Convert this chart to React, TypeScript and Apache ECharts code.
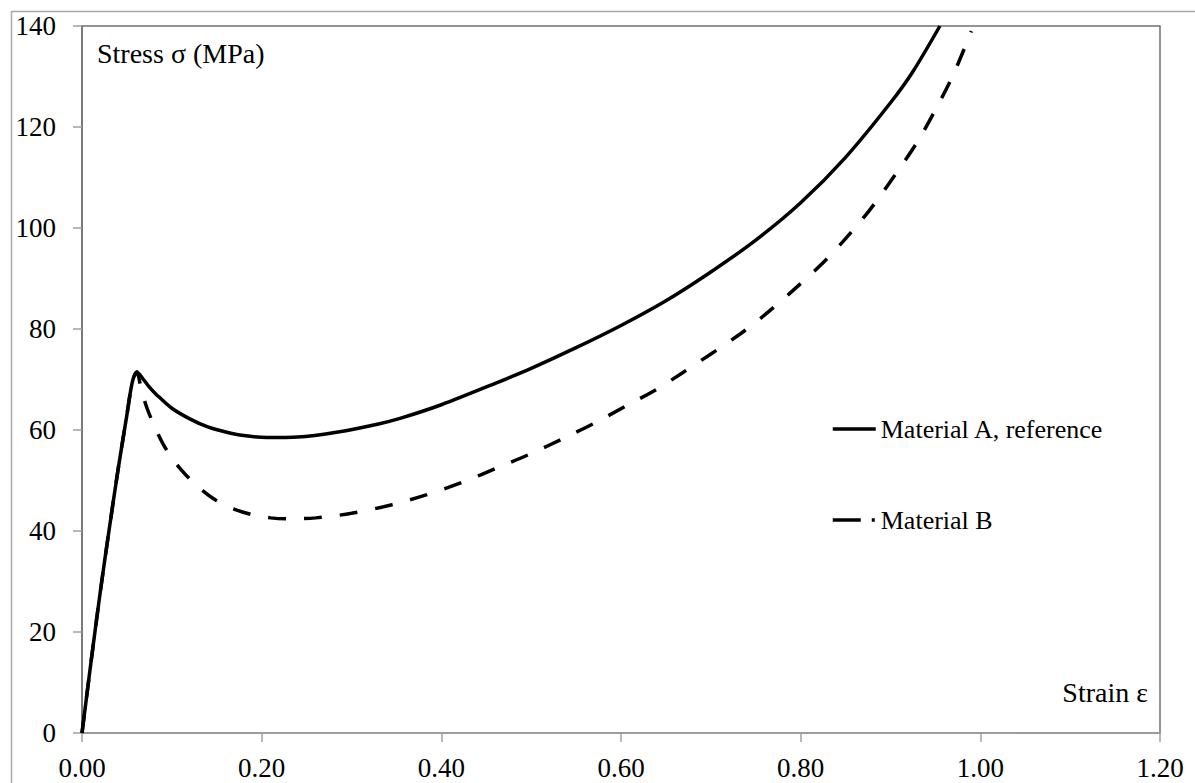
import React, { useEffect, useRef } from "react";
import * as echarts from "echarts";

const strainA = [0, 0.01, 0.02, 0.03, 0.04, 0.05, 0.056, 0.061, 0.068, 0.075, 0.083, 0.1, 0.12, 0.14, 0.16, 0.18, 0.206, 0.24, 0.285, 0.33, 0.354, 0.4, 0.465, 0.5, 0.55, 0.6, 0.65, 0.7, 0.75, 0.8, 0.85, 0.9, 0.925, 0.955];
const stressA = [0, 14, 27.5, 40, 52, 63, 69.5, 71.5, 70.1, 68.5, 67.0, 64.3, 62.2, 60.6, 59.6, 58.9, 58.5, 58.6, 59.6, 61.2, 62.3, 65.0, 69.6, 72.2, 76.3, 80.7, 85.6, 91.3, 97.6, 105.0, 114.0, 124.8, 131.0, 140];

const strainB = [0, 0.01, 0.02, 0.03, 0.04, 0.05, 0.056, 0.061, 0.066, 0.072, 0.08, 0.09, 0.1, 0.11, 0.12, 0.135, 0.15, 0.17, 0.19, 0.21, 0.23, 0.26, 0.3, 0.345, 0.384, 0.424, 0.465, 0.502, 0.54, 0.573, 0.606, 0.64, 0.669, 0.731, 0.76, 0.79, 0.822, 0.849, 0.877, 0.905, 0.929, 0.95, 0.97, 0.99];
const stressB = [0, 14, 27.5, 40, 52, 63, 69.5, 71.5, 68.0, 64.5, 61.0, 57.3, 54.5, 52.2, 50.3, 47.9, 46.0, 44.3, 43.2, 42.6, 42.4, 42.6, 43.5, 45.2, 47.2, 49.7, 52.7, 55.5, 58.7, 61.6, 64.8, 68.1, 71.4, 78.8, 82.8, 87.4, 92.6, 97.7, 103.6, 110.5, 116.8, 123.4, 130.4, 139];

const seriesNames = ["Material A, reference", "Material B"];
const xTitle = "Strain ε";
const yTitle = "Stress σ (MPa)";

const FONT = "'Liberation Serif', 'Times New Roman', serif";

export default function App() {
  const ref = useRef<HTMLDivElement>(null);
  useEffect(() => {
    document.body.style.margin = "0";
    const chart = echarts.init(ref.current!, null, { renderer: "svg" });
    const dataA = strainA.map((x, i) => [x, stressA[i]]);
    const dataB = strainB.map((x, i) => [x, stressB[i]]);
    const legendText = { fontFamily: FONT, fontSize: 26, color: "#000" };
    chart.setOption({
      animation: false,
      backgroundColor: "#fff",
      textStyle: { fontFamily: FONT },
      grid: {
        left: 82,
        top: 26,
        right: 35,
        bottom: 50,
        show: true,
        borderColor: "#707070",
        borderWidth: 1.5,
        backgroundColor: "#fff",
      },
      graphic: [
        {
          type: "rect",
          left: 9,
          top: 9,
          shape: { width: 1200, height: 800 },
          style: { fill: "none", stroke: "#a8a8a8", lineWidth: 1.5 },
          silent: true,
          z: -10,
        },
      ],
      legend: [
        {
          data: [{ name: seriesNames[0] }],
          left: 826,
          top: 411,
          itemWidth: 43,
          itemHeight: 16,
          itemStyle: { opacity: 0 },
          lineStyle: { width: 3.5, color: "#000" },
          textStyle: legendText,
        },
        {
          data: [{ name: seriesNames[1], lineStyle: { type: [28, 11, 3, 30], width: 3.5, color: "#000" } }],
          left: 826,
          top: 502,
          itemWidth: 43,
          itemHeight: 16,
          itemStyle: { opacity: 0 },
          lineStyle: { width: 3.5, color: "#000" },
          textStyle: legendText,
        },
      ],
      xAxis: {
        type: "value",
        min: 0,
        max: 1.2,
        interval: 0.2,
        name: xTitle,
        nameLocation: "end",
        nameGap: -12,
        nameTextStyle: {
          fontFamily: FONT,
          fontSize: 28,
          color: "#000",
          align: "right",
          verticalAlign: "bottom",
          padding: [0, 0, 27, 0],
        },
        axisLine: { show: true, lineStyle: { color: "#a0a0a0", width: 1.5 } },
        axisTick: { show: true, inside: false, length: 9, lineStyle: { color: "#a0a0a0", width: 1.5 } },
        axisLabel: {
          fontFamily: FONT,
          fontSize: 27,
          color: "#000",
          margin: 21,
          formatter: (v: number) => v.toFixed(2),
        },
        splitLine: { show: false },
      },
      yAxis: {
        type: "value",
        min: 0,
        max: 140,
        interval: 20,
        name: yTitle,
        nameLocation: "end",
        nameGap: -27,
        nameTextStyle: {
          fontFamily: FONT,
          fontSize: 28,
          color: "#000",
          align: "left",
          verticalAlign: "middle",
          padding: [0, 0, 0, 15],
        },
        axisLine: { show: true, lineStyle: { color: "#707070", width: 1.5 } },
        axisTick: { show: true, inside: false, length: 9, lineStyle: { color: "#a0a0a0", width: 1.5 } },
        axisLabel: {
          fontFamily: FONT,
          fontSize: 27,
          color: "#000",
          margin: 26,
        },
        splitLine: { show: false },
      },
      series: [
        {
          name: seriesNames[0],
          type: "line",
          data: dataA,
          symbol: "none",
          smooth: 0.3,
          lineStyle: { color: "#000", width: 3.5 },
          itemStyle: { color: "#000" },
        },
        {
          name: seriesNames[1],
          type: "line",
          data: dataB,
          symbol: "none",
          smooth: 0.3,
          lineStyle: { color: "#000", width: 3.5, type: [18, 18] },
          itemStyle: { color: "#000" },
        },
      ],
    });
    return () => chart.dispose();
  }, []);
  return <div ref={ref} style={{ width: 1195, height: 783 }} />;
}
